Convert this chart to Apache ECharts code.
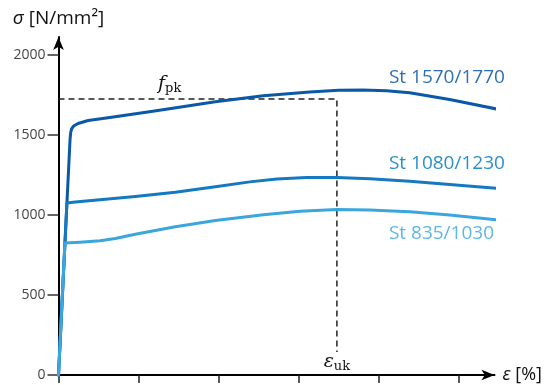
<!DOCTYPE html>
<html>
<head>
<meta charset="utf-8">
<script src="https://cdn.jsdelivr.net/npm/echarts@6/dist/echarts.min.js"></script>
<style>html,body{margin:0;padding:0;background:#fff;}#c{width:546px;height:385px;}</style>
</head>
<body>
<div id="c"></div>
<script>
// strain (tick units) vs stress (N/mm²)
const st1570 = [[0,0],[0.144,1469],[0.152,1515],[0.165,1540],[0.19,1556],[0.244,1572],[0.37,1591],[0.62,1608],[1.2,1650],[1.96,1708],[2.56,1745],[3.14,1768],[3.5,1779],[3.8,1782],[4.1,1777],[4.39,1764],[4.89,1722],[5.48,1662]];
const st1080 = [[0,0],[0.105,1075],[0.21,1081],[0.62,1100],[0.96,1116],[1.46,1142],[1.96,1176],[2.39,1207],[2.73,1225],[3.1,1234],[3.48,1234],[3.89,1227],[4.39,1211],[4.89,1190],[5.48,1167]];
const st835 = [[0,0],[0.08,825],[0.27,830],[0.52,839],[0.71,853],[0.96,880],[1.46,926],[1.96,965],[2.56,1001],[3.02,1023],[3.48,1035],[3.89,1032],[4.39,1021],[4.89,1000],[5.48,969]];
const seriesNames = ['St 1570/1770','St 1080/1230','St 835/1030'];
const fpk = 1725;
const epsUk = 3.48;
const guide = [[0,fpk],[epsUk,fpk],[epsUk,144]];
const yTicks = [0,500,1000,1500,2000];
const xTicks = [0,1,2,3,4,5];
const labelPos = [[4.13,1856],[4.13,1319],[4.13,881]];

const colors = ['#0a58a6','#1479c0','#3ba6dd'];
const labelColors = ['#2f6fb3','#2b8fcf','#5db7e6'];
const font = '"Open Sans", "Noto Sans", sans-serif';

function curve(name, data, i){
  return {
    name, type:'line', data, showSymbol:false, clip:false,
    smooth:false,
    lineStyle:{color:colors[i], width:3, join:'round', cap:'round'},
    z:3,
    markPoint:{
      symbol:'circle', symbolSize:0, silent:true,
      data:[{coord:[labelPos[i][0],labelPos[i][1]]}],
      label:{show:true, formatter:name, color:labelColors[i], fontFamily:font, fontSize:19,
        align:'left', verticalAlign:'middle', position:'inside'}
    }
  };
}

const chart = echarts.init(document.getElementById('c'), null, {renderer:'canvas'});
chart.setOption({
  animation:false,
  grid:{left:58.5, right:51.5, top:37, bottom:10, containLabel:false},
  xAxis:{
    type:'value', min:0, max:5.45,
    axisLine:{show:true, lineStyle:{color:'#000', width:2}, symbol:['none','arrow'], symbolSize:[8,13]},
    axisTick:{show:true, length:8, inside:false, customValues:xTicks, lineStyle:{color:'#222', width:1.5}},
    axisLabel:{show:false},
    splitLine:{show:false},
    name:'{e|ε} [%]', nameLocation:'end', nameGap:8,
    nameTextStyle:{color:'#111', fontFamily:font, fontSize:18, align:'left', verticalAlign:'middle',
      rich:{e:{fontStyle:'italic', fontFamily:font, fontSize:18, color:'#111'}}}
  },
  yAxis:{
    type:'value', min:0, max:2112.5,
    axisLine:{show:true, lineStyle:{color:'#000', width:2}, symbol:['none','arrow'], symbolSize:[8,13]},
    axisTick:{show:true, length:11, customValues:yTicks, lineStyle:{color:'#333', width:1.5}},
    axisLabel:{show:true, customValues:yTicks, formatter:v=>String(v), color:'#444', fontFamily:font, fontSize:14, margin:13},
    splitLine:{show:false},
    name:'{s|σ} [N/mm²]', nameLocation:'end', nameGap:9,
    nameTextStyle:{color:'#111', fontFamily:font, fontSize:19, align:'center',
      rich:{s:{fontStyle:'italic', fontFamily:font, fontSize:19, color:'#111'}}}
  },
  series:[
    curve(seriesNames[0], st1570, 0),
    curve(seriesNames[1], st1080, 1),
    curve(seriesNames[2], st835, 2),
    {
      name:'guide', type:'line', data:guide, showSymbol:false, z:2,
      lineStyle:{color:'#222', width:1.5, type:[6,4]},
      markPoint:{
        symbol:'circle', symbolSize:0, silent:true,
        data:[
          {coord:[1.39,1819], label:{formatter:'{m|f}{sub|pk}'}},
          {coord:[epsUk,81], label:{formatter:'{m|ε}{sub|uk}'}}
        ],
        label:{show:true, position:'inside', color:'#111',
          rich:{
            m:{fontFamily:'"DejaVu Serif", "Liberation Serif", serif', fontStyle:'italic', fontSize:19, color:'#111'},
            sub:{fontFamily:'"DejaVu Serif", "Liberation Serif", serif', fontSize:13, color:'#111', padding:[10,0,0,0]}
          }}
      }
    }
  ]
});
</script>
</body>
</html>
